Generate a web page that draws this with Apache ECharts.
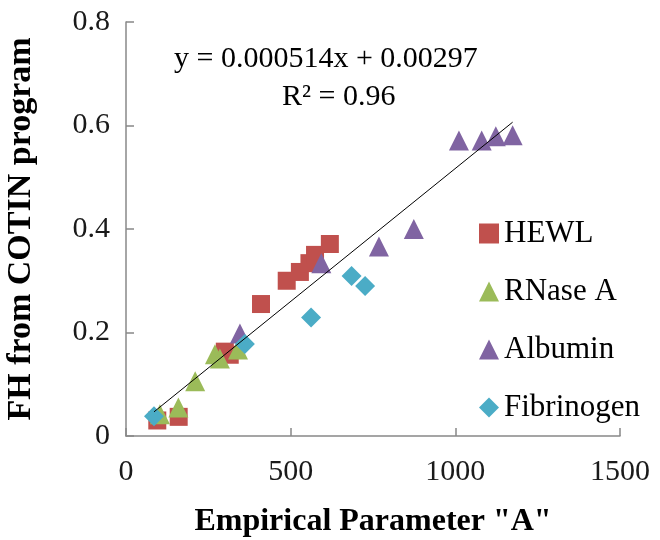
<!DOCTYPE html>
<html>
<head>
<meta charset="utf-8">
<script src="https://cdn.jsdelivr.net/npm/echarts@6/dist/echarts.min.js"></script>
<style>html,body{margin:0;padding:0;background:#fff}#c{width:660px;height:540px}</style>
</head>
<body>
<div id="c"></div>
<script>
const xTicks = [0, 500, 1000, 1500];
const yTicks = [0, 0.2, 0.4, 0.6, 0.8];
const seriesNames = ['HEWL', 'RNase A', 'Albumin', 'Fibrinogen'];
const hewl = [[95,0.03],[160,0.037],[300,0.163],[315,0.157],[410,0.255],[488,0.30],[528,0.317],[557,0.334],[574,0.35],[619,0.371]];
const rnase = [[103,0.042],[159,0.055],[210,0.106],[270,0.158],[285,0.15],[340,0.167]];
const albumin = [[346,0.198],[593,0.334],[768,0.366],[874,0.40],[1011,0.571],[1080,0.571],[1123,0.579],[1174,0.581]];
const fibrinogen = [[85,0.038],[361,0.178],[562,0.229],[685,0.309],[726,0.29]];
const slope = 0.000514, intercept = 0.00297, r2 = 0.96;

const all = hewl.concat(rnase, albumin, fibrinogen);
const xs = all.map(p => p[0]);
const xMin = Math.min(...xs), xMax = Math.max(...xs);
const trend = [[xMin, slope*xMin+intercept],[xMax, slope*xMax+intercept]];

const colors = ['#C0504D', '#9BBB59', '#8064A2', '#4BACC6'];
const symbols = ['rect', 'triangle', 'triangle', 'diamond'];
const sizes = [18, 20, 20, 20];
const font = '"Liberation Serif", "Times New Roman", serif';

const chart = echarts.init(document.getElementById('c'));
const datas = [hewl, rnase, albumin, fibrinogen];
const series = datas.map((d, i) => ({
  name: seriesNames[i], type: 'scatter', data: d, symbol: symbols[i], symbolSize: sizes[i],
  itemStyle: { color: colors[i], opacity: 1 }, z: 2
}));
series.push({
  name: 'trend', type: 'line', data: trend, symbol: 'none', silent: true,
  lineStyle: { color: '#000', width: 1 }, z: 5
});
chart.setOption({
  animation: false,
  backgroundColor: '#fff',
  grid: { left: 126, right: 40, top: 22, bottom: 104, containLabel: false, outerBoundsMode: 'none' },
  xAxis: {
    type: 'value', min: xTicks[0], max: xTicks[xTicks.length-1], interval: xTicks[1]-xTicks[0],
    splitLine: { show: false },
    axisLine: { lineStyle: { color: '#888', width: 1.5 } },
    axisTick: { inside: true, length: 8, lineStyle: { color: '#888', width: 1.5 } },
    axisLabel: { color: '#1a1a1a', fontFamily: font, fontSize: 30, margin: 21, formatter: v => String(v) },
    name: 'Empirical Parameter "A"', nameLocation: 'middle', nameGap: 70,
    nameTextStyle: { color: '#000', fontFamily: font, fontSize: 32, fontWeight: 'bold' }
  },
  yAxis: {
    type: 'value', min: yTicks[0], max: yTicks[yTicks.length-1], interval: yTicks[1]-yTicks[0],
    splitLine: { show: false },
    axisLine: { lineStyle: { color: '#888', width: 1.5 } },
    axisTick: { inside: true, length: 8, lineStyle: { color: '#888', width: 1.5 } },
    axisLabel: { color: '#1a1a1a', fontFamily: font, fontSize: 30, margin: 16 },
    name: 'FH from COTIN program', nameLocation: 'middle', nameGap: 88,
    nameTextStyle: { color: '#000', fontFamily: font, fontSize: 34, fontWeight: 'bold' }
  },
  legend: {
    data: seriesNames, orient: 'vertical', left: 474, top: 213, itemGap: 27,
    itemWidth: 20, itemHeight: 20,
    textStyle: { color: '#000', fontFamily: font, fontSize: 31 }
  },
  graphic: [
    { type: 'text', left: 174, top: 44, style: { text: 'y = 0.000514x + 0.00297', font: '30px ' + font, fill: '#000' } },
    { type: 'text', left: 282, top: 82, style: { text: 'R² = ' + r2, font: '30px ' + font, fill: '#000' } }
  ],
  series: series
});
</script>
</body>
</html>
